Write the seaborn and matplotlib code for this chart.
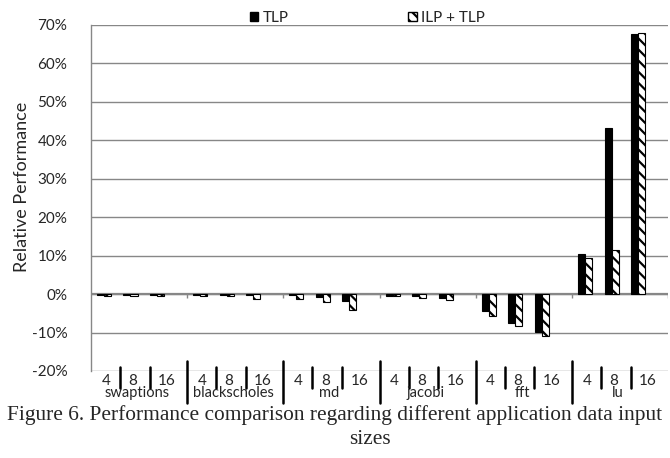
import numpy as np
import pandas as pd
import matplotlib
matplotlib.use('Agg')
import matplotlib.pyplot as plt
import seaborn as sns
from matplotlib.patches import Patch
from matplotlib.ticker import PercentFormatter

# values (percent)
benchmarks = ['swaptions', 'blackscholes', 'md', 'jacobi', 'fft', 'lu']
sizes = ['4', '8', '16']
series = ['TLP', 'ILP + TLP']
tlp = [-0.3, -0.3, -0.3,
       -0.3, -0.3, -0.3,
       -0.3, -0.8, -1.8,
       -0.6, -0.6, -1.1,
       -4.4, -7.4, -9.9,
       10.4, 43.3, 67.6]
ilp_tlp = [-0.6, -0.6, -0.6,
           -0.6, -0.6, -1.4,
           -1.4, -2.0, -4.2,
           -0.6, -1.1, -1.5,
           -5.6, -8.4, -10.9,
           9.3, 11.5, 67.9]
y_ticks = [-20, -10, 0, 10, 20, 30, 40, 50, 60, 70]

caption_1 = 'Figure 6. Performance comparison regarding different application data input'
caption_2 = 'sizes'

sns.set_style('white')
plt.rcParams['font.family'] = ['Lato', 'DejaVu Sans']
plt.rcParams['axes.unicode_minus'] = False
plt.rcParams['hatch.linewidth'] = 1.6

# layout: three sizes per benchmark, wider gap between benchmarks
period = 3.63
left_pad = 0.49
rows = []
for b, bench in enumerate(benchmarks):
    for s, size in enumerate(sizes):
        pos = b * period + s
        rows.append({'pos': pos, 'series': series[0], 'value': tlp[b * 3 + s]})
        rows.append({'pos': pos, 'series': series[1], 'value': ilp_tlp[b * 3 + s]})
df = pd.DataFrame(rows)

fig = plt.figure(figsize=(6.7, 4.58), dpi=100)
ax = fig.add_axes([91 / 670, 1 - 371 / 458, 577 / 670, 346 / 458])

grid_col = '#878787'
ax.set_ylim(-20, 70)
ax.set_yticks(y_ticks)
for t in y_ticks:
    ax.axhline(t, color=grid_col, lw=1.0, zorder=0)
ax.axhline(0, color=grid_col, lw=1.6, zorder=1)

sns.barplot(data=df, x='pos', y='value', hue='series', hue_order=series,
            native_scale=True, width=0.53, errorbar=None,
            palette={series[0]: 'black', series[1]: 'white'},
            edgecolor='black', linewidth=0.8, legend=False, ax=ax, zorder=3)
for bar in ax.containers[1]:
    bar.set_hatch('\\\\\\')

x_right = (len(benchmarks) - 1) * period + 2 + 1.13
ax.set_xlim(-left_pad, x_right)
ax.yaxis.set_major_formatter(PercentFormatter(decimals=0))
ax.tick_params(axis='y', length=5, width=1.0, color=grid_col, pad=12, labelsize=11)
ax.tick_params(axis='x', bottom=False, labelbottom=False)
ax.set_xlabel('')
ax.set_ylabel('Relative Performance', fontsize=13)
ax.yaxis.set_label_coords((22 - 91) / 577, (371 - 187) / 346)
ax.yaxis.label.set_va('center')

for side in ['top', 'right', 'bottom']:
    ax.spines[side].set_visible(False)
ax.spines['left'].set_color(grid_col)
ax.spines['left'].set_linewidth(1.0)

# small ticks on the zero line at benchmark boundaries
bounds = [b * period - left_pad for b in range(1, len(benchmarks) + 1)]
ax.vlines(bounds, -1.1, 0, color=grid_col, lw=1.0, zorder=1)

# multi-level category labels below the axis
tr = ax.get_xaxis_transform()
for b, bench in enumerate(benchmarks):
    x0 = b * period
    if b > 0:
        ax.plot([x0 - left_pad] * 2, [0.029, -0.093], transform=tr, color='black',
                lw=1.8, clip_on=False)
    for off in [0.6, 1.72]:
        ax.plot([x0 + off] * 2, [0.012, -0.049], transform=tr, color='black',
                lw=1.8, clip_on=False)
    for off, size in zip([0.07, 1.09, 2.37], sizes):
        ax.text(x0 + off, -0.0405, size, transform=tr, ha='center',
                va='baseline', fontsize=11)
    ax.text(x0 + 1.25, -0.0755, bench, transform=tr, ha='center',
            va='baseline', fontsize=10.5)

handles = [Patch(facecolor='black', edgecolor='black', label=series[0]),
           Patch(facecolor='white', edgecolor='black', hatch='\\\\\\', label=series[1])]
fig.legend(handles=handles, loc='center left', bbox_to_anchor=(250 / 670, 1 - 18 / 458),
           ncol=2, frameon=False, fontsize=11, handlelength=0.55, handleheight=0.55,
           handletextpad=0.3, columnspacing=7.8, borderpad=0, borderaxespad=0)

fig.text(335 / 670, 1 - 415 / 458, caption_1, ha='center', va='center',
         fontsize=15.4, family='Liberation Serif')
fig.text(370 / 670, 1 - 440 / 458, caption_2, ha='center', va='center',
         fontsize=15.4, family='Liberation Serif')

fig.savefig('out.png', dpi=100)
